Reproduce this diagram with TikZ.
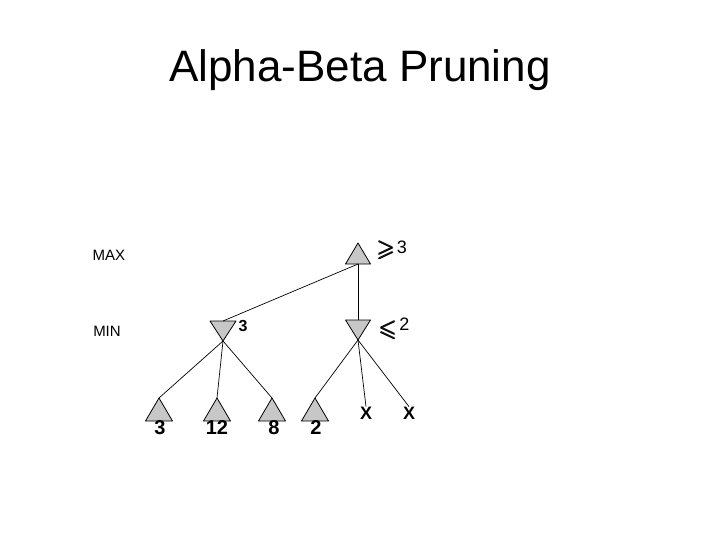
\documentclass[tikz,border=0pt]{standalone}
\usepackage{amssymb}
\usepackage{bm}
\usepackage{fontspec}
\setmainfont{Liberation Sans}
\begin{document}
\begin{tikzpicture}[x=1pt,y=-1pt]
\tikzset{
  tri/.style={fill=black!22,draw=black,line width=0.8pt,line join=round},
  edge/.style={draw=black,line width=0.7pt},
  lvl/.style={font=\fontsize{15}{15}\selectfont,inner sep=0pt},
  val/.style={font=\fontsize{18}{18}\selectfont,inner sep=0pt},
  leafval/.style={font=\bfseries\fontsize{20}{20}\selectfont,inner sep=0pt},
  cut/.style={font=\bfseries\fontsize{18}{18}\selectfont,inner sep=0pt}
}
\useasboundingbox (0,0) rectangle (720,540);
\node[font=\fontsize{44}{44}\selectfont,inner sep=0pt] (title) at (360,70) {Alpha-Beta Pruning};
\node[lvl] (maxl) at (109,255) {MAX};
\node[lvl] (minl) at (107,331) {MIN};
% root (MAX)
\coordinate (root) at (358,243);
\coordinate (rootb) at (358,264);
\draw[tri] (root) -- ++(12.5,21) -- ++(-25,0) -- cycle;
% MIN nodes
\coordinate (mina) at (223,341);
\coordinate (minat) at (223,321);
\draw[tri] (mina) -- ++(13,-20) -- ++(-26,0) -- cycle;
\coordinate (minb) at (358,340);
\coordinate (minbt) at (358,320);
\draw[tri] (minb) -- ++(12.5,-20) -- ++(-25,0) -- cycle;
% leaves
\coordinate (l1) at (159,398);
\coordinate (l2) at (217,398);
\coordinate (l3) at (272,398);
\coordinate (l4) at (315,398);
\foreach \c in {l1,l2,l3,l4}{
  \draw[tri] (\c) -- ++(13.5,23) -- ++(-27,0) -- cycle;
}
\node[cut] (x1) at (366,413) {X};
\node[cut] (x2) at (409,413) {X};
% edges
\draw[edge] (minat) -- (rootb);
\draw[edge] (rootb) -- (minbt);
\draw[edge] (mina) -- (l1);
\draw[edge] (mina) -- (l2);
\draw[edge] (mina) -- (l3);
\draw[edge] (minb) -- (l4);
\draw[edge] (minb) -- (x1.north);
\draw[edge] (minb) -- (x2.north);
% values
\node[val,anchor=base west] (rv) at (376,253) {\raisebox{-3pt}{\scalebox{1.3}{$\bm{\geqslant}$}}\hspace{1.5pt}3};
\node[val,anchor=base west] (mbv) at (378,330) {\raisebox{-6pt}{\scalebox{1.3}{$\bm{\leqslant}$}}\hspace{2pt}2};
\node[font=\bfseries\fontsize{16}{16}\selectfont,inner sep=0pt] (mav) at (243,326) {3};
\node[leafval] (v1) at (160,428) {3};
\node[leafval] (v2) at (217,428) {12};
\node[leafval] (v3) at (274,428) {8};
\node[leafval] (v4) at (316,428) {2};
\end{tikzpicture}
\end{document}
